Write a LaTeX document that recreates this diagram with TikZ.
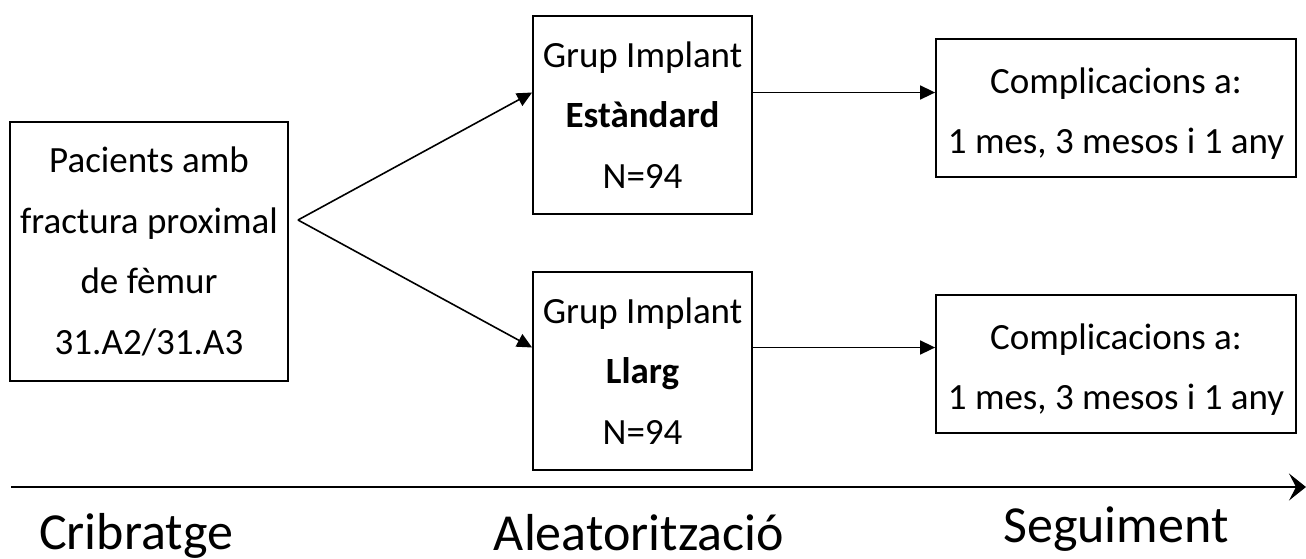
\documentclass[tikz,border=0pt]{standalone}
\usepackage{fontspec}
\setmainfont{Carlito}
\usetikzlibrary{arrows.meta}
\tikzset{
  box/.style={draw, line width=1.8pt, inner sep=0pt, align=center,
    font=\fontsize{37}{60.5}\selectfont},
  flow/.style={line width=1.6pt, -{Triangle[length=15pt,width=14pt]}},
  axis/.style={line width=2pt, -{Stealth[length=17pt,width=27pt,inset=7pt]}},
  phase/.style={anchor=base, inner sep=0pt, font=\fontsize{52}{60}\selectfont},
}
\newcommand\toppad{\rule{0pt}{37pt}}
\begin{document}
\begin{tikzpicture}[x=1pt,y=-1pt]
\useasboundingbox (0,0) rectangle (1306,558);

% study population
\node[box, minimum width=278pt, minimum height=259pt] (pac) at (149,251.5)
  {Pacients amb\\fractura proximal\\de fèmur\\31.A2/31.A3};

% randomised groups
\node[box, minimum width=219pt, minimum height=198pt] (std) at (642.5,115)
  {Grup Implant\\\textbf{Estàndard}\\N=94};
\node[box, minimum width=219pt, minimum height=198pt] (llarg) at (642.5,371)
  {Grup Implant\\\textbf{Llarg}\\N=94};

% follow-up (text sits a little below the middle of the frame)
\node[box, minimum width=360pt, minimum height=138pt] (compA) at (1116,108)
  {\toppad Complicacions a:\\1 mes, 3 mesos i 1 any};
\node[box, minimum width=360pt, minimum height=138pt] (compB) at (1116,364)
  {\toppad Complicacions a:\\1 mes, 3 mesos i 1 any};

% connectors
\coordinate (fork) at (298,220);
\coordinate (yA) at (0,92.5);
\coordinate (yB) at (0,347.5);
\draw[flow] (fork) -- (std.west |- yA);
\draw[flow] (fork) -- (llarg.west |- yB);
\draw[flow] (std.east |- yA) -- (compA.west |- yA);
\draw[flow] (llarg.east |- yB) -- (compB.west |- yB);

% time axis and phases
\coordinate (t0) at (11,487);
\coordinate (t1) at (1306,487);
\draw[axis] (t0) -- (t1);
\node[phase] (crib) at (136,549) {Cribratge};
\node[phase] (aleat) at (639,550) {Aleatorització};
\node[phase] (seg) at (1116,542) {Seguiment};
\end{tikzpicture}
\end{document}
